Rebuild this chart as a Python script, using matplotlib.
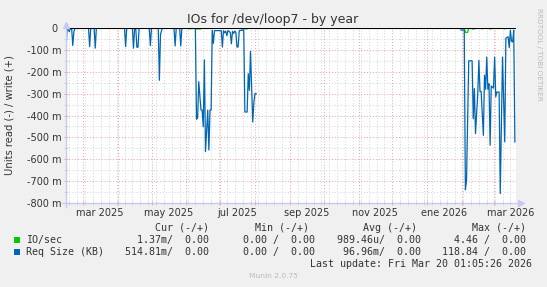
import numpy as np
import matplotlib
matplotlib.use("Agg")
import matplotlib.pyplot as plt
import matplotlib.dates as mdates
from matplotlib.ticker import MultipleLocator, FuncFormatter, NullFormatter

# -----------------------------
# DATA (days since start, values in milli units, read side negative)
# -----------------------------
start = np.datetime64("2025-02-14")
n_days = 400
nan = np.nan

req_days = [0, 1, 3, 4, 5, 6, 7, 8,
            20, 21, 22, 25, 26, 27,
            52, 53, 54,
            59, 60, 61, 62, 63, 64, 65,
            74, 75, 76,
            82, 83, 84, 85, 86,
            96, 97, 98, 101, 102, 103,
            115, 116, 117, 118, 120, 121, 122, 123, 124, 126, 127, 128, 129,
            130, 131, 132, 138, 139, 140, 141, 142, 143, 144, 146, 147, 148,
            149, 150, 151, 152, 153, 154, 158,
            159, 161, 162, 163, 164, 166, 167, 168, 169, 170,
            351, 354, 355, 356, 358, 361, 362, 363, 364, 366, 367, 368, 369,
            371, 372, 373, 374, 375, 376, 377, 378, 380, 381, 382, 383, 385,
            386, 388, 390, 391, 393, 394, 395, 396, 397, 398, 399]
req_vals = [-100, 0, -17, 0, 0, -80, -18, 0,
            0, -85, 0, 0, -92, 0,
            0, -85, 0,
            0, -92, 0, 0, -88, -88, 0,
            0, -80, 0,
            0, -239, -30, -10, 0,
            0, -82, 0, 0, -82, 0,
            0, -417, -410, -245, -375, -375, -451, -146, -565, -375, -558, -375, -375,
            -10, -70, -12, -12, -87, -12, -22, -14, -35, -12, -20, -72, -15,
            -25, -14, -20, -87, -87, -12, -10,
            -384, -384, -209, -285, -107, -430, -340, -300, -300, nan,
            -9, -9, -740, -700, -150, -150, -415, -277, -483, -300, -148, -290, -290,
            -491, -216, -280, -133, -280, -255, -536, -265, -275, -133, -315, -293, -293,
            -757, -133, -521, -46, -40, -90, -10, -60, -64, -10, -521]

io_days = [0, 2, 3, 108, 109, 112, 113, 115, 116, 120, 121, 155, 156, 161, 162, 170,
           351, 354, 355, 357, 358, 360, 361, 363, 364, 369, 370, 371,
           376, 377, 378, 379, 389, 390, 391, 399]
io_vals = [-3, -3, 0, 0, -3, -3, 0, 0, -4, -4, 0, 0, -4, -4, 0, nan,
           0, 0, -20, -20, -2, 0, -4, -4, 0, 0, -4, 0,
           0, -4, -4, 0, 0, -4, 0, 0]

month_labels = ["mar 2025", "may 2025", "jul 2025", "sep 2025",
                "nov 2025", "ene 2026", "mar 2026"]
month_label_dates = ["2025-03-16", "2025-05-16", "2025-07-16", "2025-09-16",
                     "2025-11-16", "2026-01-16", "2026-03-16"]

legend_names = ["IO/sec", "Req Size (KB)"]
legend_colors = ["#00CC00", "#0066B3"]
cur_txt = ["1.37m/  0.00", "514.81m/  0.00"]
min_txt = ["0.00 /  0.00", "0.00 /  0.00"]
avg_txt = ["989.46u/  0.00", "96.96m/  0.00"]
max_txt = ["4.46 /  0.00", "118.84 /  0.00"]

W, H = 547, 287
BG = "#F0F0F0"
RED = "#EBA0A0"
GRAY = "#D2D2D2"
AXIS = "#C8C8F4"
TXT = "#333333"


def px(x, y):
    return x / W, 1 - y / H


fig = plt.figure(figsize=(W / 100, H / 100), dpi=100, facecolor=BG)
ax = fig.add_axes([66 / W, 1 - 203 / H, 450 / W, 175 / H])
ax.set_facecolor("white")

day = np.timedelta64(1, "D")
req_x = start + np.array(req_days) * day
io_x = start + np.array(io_days) * day

ax.plot(io_x, io_vals, color=legend_colors[0], lw=0.9, zorder=3)
ax.plot(req_x, req_vals, color=legend_colors[1], lw=0.9, zorder=4)
ax.axhline(0, color="black", lw=0.8, zorder=5)

ax.set_xlim(start, start + n_days * day)
ax.set_ylim(-800, 0)

# grid
ax.xaxis.set_major_locator(mdates.MonthLocator())
ax.xaxis.set_minor_locator(mdates.WeekdayLocator(byweekday=mdates.MO))
ax.xaxis.set_major_formatter(NullFormatter())
ax.yaxis.set_major_locator(MultipleLocator(100))
ax.yaxis.set_minor_locator(MultipleLocator(50))
ax.yaxis.set_major_formatter(FuncFormatter(lambda v, p: "0 " if v == 0 else f"{int(v)} m"))
ax.grid(which="minor", color=GRAY, ls=(0, (1, 2)), lw=0.7, zorder=1)
ax.grid(which="major", color=RED, ls=(0, (1, 2)), lw=0.7, zorder=2)
ax.set_axisbelow(True)

ax.tick_params(which="major", direction="inout", length=3, width=0.7, color=RED,
               labelsize=7, labelcolor=TXT)
ax.tick_params(which="minor", direction="inout", length=3, width=0.7, color=GRAY)
ax.tick_params(axis="y", pad=2)

for s in ax.spines.values():
    s.set_visible(False)

# axis lines with arrows
ax.plot([0, 0], [-0.025, 1.0], transform=ax.transAxes, color=AXIS, lw=1, clip_on=False, zorder=6)
ax.plot([0], [1.02], transform=ax.transAxes, marker="^", ms=4.5, color=AXIS, clip_on=False, zorder=6)
ax.plot([-0.008, 1.005], [0, 0], transform=ax.transAxes, color=AXIS, lw=1, clip_on=False, zorder=6)
ax.plot([1.01], [0], transform=ax.transAxes, marker=">", ms=4.5, color=AXIS, clip_on=False, zorder=6)

# month labels centred mid-month
for lab, d in zip(month_labels, month_label_dates):
    ax.text(np.datetime64(d), -0.028, lab, transform=ax.get_xaxis_transform(),
            ha="center", va="top", fontsize=7, color=TXT)

# texts
fig.text(*px(273, 20), "IOs for /dev/loop7 - by year", ha="center", va="center",
         fontsize=9, color=TXT)
fig.text(*px(10, 115), "Units read (-) / write (+)", ha="center", va="center",
         rotation=90, fontsize=7.2, color=TXT)
fig.text(*px(538.5, 8), "RRDTOOL / TOBI OETIKER", ha="center", va="top",
         rotation=270, fontsize=5.2, color="#BBBBBB")

mono = dict(family="DejaVu Sans Mono", fontsize=7.2, color=TXT, va="center")
for txt, xr in zip(["Cur (-/+)", "Min (-/+)", "Avg (-/+)", "Max (-/+)"], [209, 309, 417, 526]):
    fig.text(*px(xr, 228), txt, ha="right", **mono)
for i in range(2):
    y = 240 + 12 * i
    fig.patches.append(plt.Rectangle(px(14, y + 3), 6 / W, 6 / H, transform=fig.transFigure,
                                     facecolor=legend_colors[i], edgecolor="none"))
    fig.text(*px(26, y), legend_names[i], ha="left", **mono)
    fig.text(*px(209, y), cur_txt[i], ha="right", **mono)
    fig.text(*px(315, y), min_txt[i], ha="right", **mono)
    fig.text(*px(421, y), avg_txt[i], ha="right", **mono)
    fig.text(*px(526, y), max_txt[i], ha="right", **mono)
fig.text(*px(532, 264), "Last update: Fri Mar 20 01:05:26 2026", ha="right", **mono)
fig.text(*px(273, 276), "Munin 2.0.75", ha="center", va="center", fontsize=5.4, color="#BBBBBB")

fig.savefig("out.png", dpi=100, facecolor=BG)
